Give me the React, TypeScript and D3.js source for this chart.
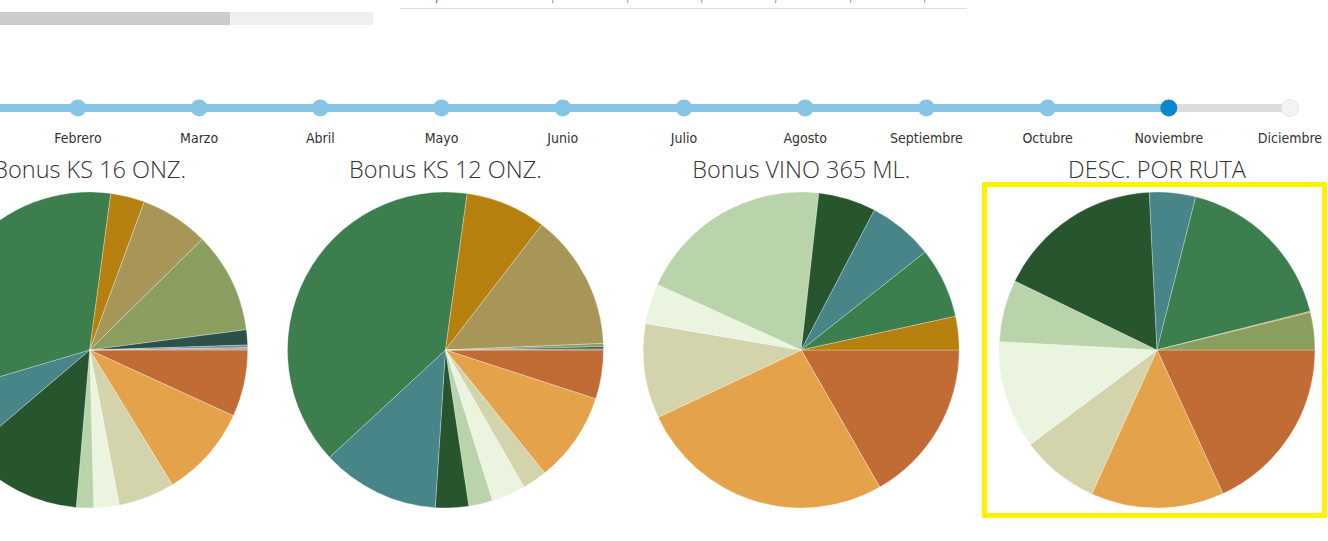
import React from "react";
import * as d3 from "d3";

const months = ["Enero", "Febrero", "Marzo", "Abril", "Mayo", "Junio", "Julio", "Agosto", "Septiembre", "Octubre", "Noviembre", "Diciembre"];
const selectedMonth = "Noviembre";

const categories = ["C01", "C02", "C03", "C04", "C05", "C06", "C07", "C08", "C09", "C10", "C11", "C12", "C13", "C14"];
const palette = ["#c26c35", "#e4a24a", "#d3d4ab", "#ebf4df", "#b9d4aa", "#26552e", "#478588", "#3d7e4f", "#b5800d", "#a89658", "#8a9e60", "#2d5048", "#7d8a86", "#9aa8b8"];

const titles = ["Bonus KS 16 ONZ.", "Bonus KS 12 ONZ.", "Bonus VINO 365 ML.", "DESC. POR RUTA"];
const ks16 = [24.6, 33.9, 20.7, 9.3, 6.4, 44.7, 23.9, 114.2, 12.5, 25.3, 37.1, 5.6, 1.0, 0.8];
const ks12 = [18.0, 33.1, 9.1, 12.5, 8.8, 12.2, 43.5, 140.7, 29.7, 50.0, 1.2, 0.8, 0.4, 0];
const vino365 = [60.2, 94.6, 34.9, 14.8, 71.9, 21.2, 24.1, 26.0, 12.3, 0, 0, 0, 0, 0];
const descRuta = [65.35, 49.05, 28.9, 39.7, 22.9, 61.3, 17.0, 61.6, 0.4, 0, 13.8, 0, 0, 0];
const series = [ks16, ks12, vino365, descRuta];
const highlighted = "DESC. POR RUTA";

const topTicks = [437, 553, 628, 702, 776, 851, 925];

export default function App() {
  const W = 1328, H = 541;
  const xMonth = d3.scalePoint<string>().domain(months).range([-43.3, 1290]);
  const xPie = d3.scalePoint<string>().domain(titles).range([89.7, 1157]);
  const color = d3.scaleOrdinal<string, string>().domain(categories).range(palette);
  const R = 158;
  const cy = 350;
  const pie = d3.pie<number>().sort(null).value((d) => d).startAngle(Math.PI / 2).endAngle(Math.PI / 2 + 2 * Math.PI);
  const arc = d3.arc<d3.PieArcDatum<number>>().innerRadius(0).outerRadius(R);
  const selX = xMonth(selectedMonth)!;
  const lastX = xMonth(months[months.length - 1])!;
  const lineY = 108;

  return (
    <svg width={W} height={H} style={{ position: "absolute", left: 0, top: 0, background: "#fff" }}>
      {/* top remnants */}
      <rect x={0} y={12} width={373} height={13} fill="#efefef" />
      <rect x={0} y={12} width={230} height={13} fill="#cccccc" />
      <line x1={400} x2={967} y1={8.5} y2={8.5} stroke="#dddddd" strokeWidth={1} />
      {topTicks.map((t, i) => (
        <line key={i} x1={t} x2={t - 0.5} y1={0} y2={3} stroke={i === 0 ? "#7a4a4a" : "#999"} strokeWidth={1} />
      ))}

      {/* timeline */}
      <line x1={selX} x2={lastX} y1={lineY} y2={lineY} stroke="#dcdcdc" strokeWidth={8} strokeLinecap="round" />
      <line x1={-10} x2={selX} y1={lineY} y2={lineY} stroke="#86c5e5" strokeWidth={8} />
      {months.map((m) => {
        const x = xMonth(m)!;
        const idx = months.indexOf(m);
        const sel = months.indexOf(selectedMonth);
        const fill = m === selectedMonth ? "#0a87cd" : idx > sel ? "#f3f3f3" : "#86c5e5";
        return (
          <g key={m}>
            <circle cx={x} cy={lineY} r={8.5} fill={fill} stroke={idx > sel ? "#e6e6e6" : "none"} strokeWidth={1} />
            {x > 0 ? (
              <text x={x} y={143} textAnchor="middle" fontFamily="'DejaVu Sans Condensed', 'DejaVu Sans', sans-serif" fontSize={14} fill="#333">{m}</text>
            ) : null}
          </g>
        );
      })}

      {/* pies */}
      {titles.map((t, i) => {
        const cx = xPie(t)!;
        const arcs = pie(series[i]);
        return (
          <g key={t}>
            <text x={cx} y={178} textAnchor="middle" fontFamily="'Open Sans', 'Lato', sans-serif" fontWeight={300} fontSize={23.5} fill="#333">{t}</text>
            <g transform={`translate(${cx},${cy})`}>
              {arcs.map((a, j) => (
                a.value > 0 ? <path key={j} d={arc(a) || ""} fill={color(categories[j])} stroke="#ffffff" strokeWidth={0.4} strokeOpacity={0.7} /> : null
              ))}
            </g>
            {t === highlighted ? (
              <rect x={cx - 172.5} y={cy - 165.5} width={340} height={331} fill="none" stroke="#fff200" strokeWidth={5} />
            ) : null}
          </g>
        );
      })}
    </svg>
  );
}
